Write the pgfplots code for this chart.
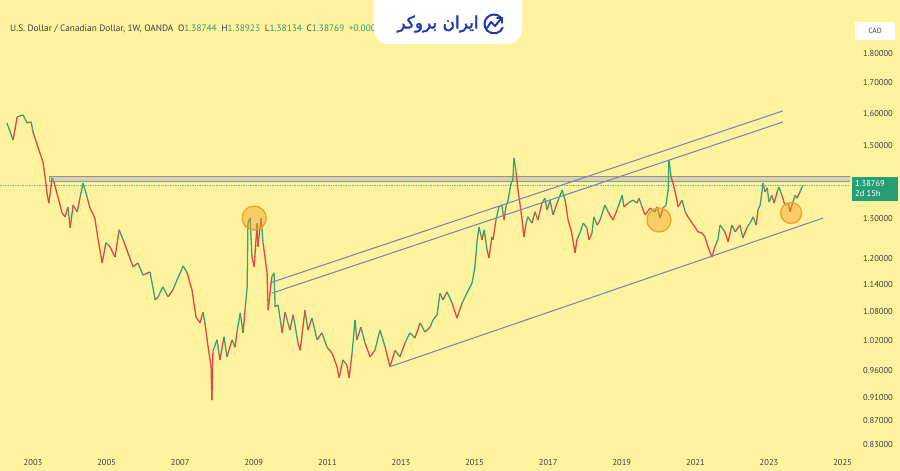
\documentclass[border=0pt]{standalone}
\usepackage{fontspec}
\setmainfont{PT Sans}
\usepackage{pgfplots}
\usepackage{pgfplotstable}
\pgfplotsset{compat=1.18}
\TeXXeTstate=1
\newfontfamily\logofont[Script=Arabic,FakeBold=2]{DejaVu Sans}

\definecolor{bgyellow}{RGB}{254,242,158}
\definecolor{candgreen}{RGB}{52,165,112}
\definecolor{candred}{RGB}{222,72,66}
\definecolor{trendblue}{RGB}{120,140,176}
\definecolor{txtgray}{RGB}{60,62,70}
\definecolor{valgreen}{RGB}{40,160,110}
\definecolor{tagteal}{RGB}{38,158,118}
\definecolor{logoblue}{RGB}{32,58,168}
\definecolor{circorange}{RGB}{242,160,40}
\definecolor{bandline}{RGB}{150,148,135}
\definecolor{bandfill}{RGB}{214,210,178}

% USD/CAD weekly closes (decimal year, price)
\pgfplotstableread{
t p
2002.29 1.570
2002.46 1.518
2002.57 1.589
2002.73 1.595
2002.84 1.570
2002.95 1.573
2003.00 1.542
2003.16 1.488
2003.27 1.453
2003.33 1.410
2003.38 1.366
2003.43 1.339
2003.52 1.408
2003.57 1.396
2003.68 1.355
2003.79 1.313
2003.87 1.303
2003.95 1.329
2004.01 1.275
2004.09 1.334
2004.20 1.316
2004.28 1.355
2004.36 1.393
2004.47 1.355
2004.55 1.326
2004.68 1.300
2004.77 1.245
2004.88 1.189
2004.98 1.238
2005.09 1.228
2005.23 1.203
2005.34 1.270
2005.45 1.245
2005.58 1.213
2005.72 1.180
2005.85 1.189
2005.99 1.161
2006.18 1.168
2006.32 1.105
2006.40 1.112
2006.53 1.134
2006.67 1.112
2006.80 1.127
2006.94 1.155
2007.08 1.182
2007.18 1.168
2007.32 1.127
2007.43 1.068
2007.54 1.056
2007.62 1.079
2007.67 1.056
2007.76 1.006
2007.84 0.968
2007.86 0.906
2007.89 0.998
2008.00 1.021
2008.08 0.981
2008.19 1.027
2008.27 0.987
2008.41 1.021
2008.49 1.006
2008.54 1.035
2008.63 1.077
2008.71 1.035
2008.76 1.083
2008.82 1.134
2008.84 1.287
2008.90 1.300
2008.95 1.203
2009.01 1.180
2009.09 1.287
2009.11 1.228
2009.20 1.300
2009.25 1.238
2009.36 1.166
2009.39 1.083
2009.49 1.157
2009.55 1.166
2009.58 1.090
2009.66 1.094
2009.77 1.035
2009.85 1.079
2009.98 1.041
2010.07 1.073
2010.20 1.015
2010.26 1.000
2010.39 1.083
2010.47 1.041
2010.58 1.066
2010.72 1.021
2010.85 1.035
2010.99 1.006
2011.13 0.994
2011.26 0.968
2011.32 0.947
2011.42 0.981
2011.53 0.971
2011.59 0.947
2011.67 0.994
2011.75 1.062
2011.80 1.021
2011.91 1.047
2012.02 1.015
2012.16 0.987
2012.29 1.000
2012.43 1.041
2012.57 1.006
2012.70 0.968
2012.84 1.000
2012.97 0.987
2013.11 1.015
2013.24 1.035
2013.38 1.025
2013.52 1.056
2013.65 1.037
2013.79 1.047
2013.87 1.062
2013.98 1.073
2014.06 1.120
2014.14 1.105
2014.25 1.123
2014.39 1.098
2014.52 1.066
2014.66 1.098
2014.79 1.120
2014.93 1.143
2015.01 1.180
2015.07 1.245
2015.12 1.277
2015.20 1.245
2015.26 1.270
2015.34 1.220
2015.39 1.201
2015.47 1.252
2015.50 1.245
2015.58 1.295
2015.66 1.329
2015.74 1.334
2015.80 1.295
2015.85 1.329
2015.91 1.347
2015.99 1.393
2016.04 1.402
2016.07 1.465
2016.13 1.422
2016.18 1.374
2016.23 1.339
2016.29 1.295
2016.34 1.252
2016.40 1.287
2016.45 1.303
2016.56 1.287
2016.64 1.316
2016.72 1.295
2016.83 1.339
2016.91 1.352
2016.97 1.321
2017.05 1.347
2017.13 1.308
2017.24 1.339
2017.29 1.352
2017.38 1.374
2017.46 1.347
2017.54 1.295
2017.62 1.270
2017.67 1.245
2017.73 1.213
2017.78 1.245
2017.86 1.262
2017.95 1.287
2018.05 1.275
2018.11 1.245
2018.19 1.262
2018.24 1.303
2018.33 1.282
2018.41 1.295
2018.54 1.334
2018.63 1.316
2018.76 1.295
2018.87 1.321
2019.01 1.360
2019.06 1.329
2019.17 1.339
2019.30 1.347
2019.41 1.339
2019.47 1.352
2019.55 1.329
2019.63 1.308
2019.77 1.326
2019.90 1.316
2019.96 1.329
2020.04 1.300
2020.12 1.326
2020.20 1.334
2020.26 1.374
2020.28 1.459
2020.34 1.410
2020.39 1.393
2020.47 1.360
2020.53 1.329
2020.64 1.347
2020.72 1.316
2020.80 1.303
2020.91 1.287
2020.99 1.277
2021.07 1.265
2021.18 1.262
2021.26 1.252
2021.34 1.228
2021.45 1.203
2021.53 1.228
2021.61 1.245
2021.67 1.282
2021.80 1.265
2021.89 1.240
2021.99 1.282
2022.08 1.265
2022.21 1.282
2022.29 1.250
2022.40 1.275
2022.48 1.287
2022.57 1.303
2022.65 1.282
2022.70 1.321
2022.76 1.334
2022.84 1.393
2022.89 1.369
2022.95 1.380
2023.00 1.342
2023.08 1.360
2023.14 1.339
2023.22 1.369
2023.27 1.382
2023.35 1.360
2023.43 1.334
2023.52 1.339
2023.57 1.316
2023.65 1.342
2023.71 1.360
2023.76 1.352
2023.84 1.369
2023.92 1.388
}\pricedata

% 1 = price rose into this point, 0 = fell
\pgfplotstablecreatecol[
  create col/assign/.code={%
    \ifnum\pgfplotstablerow=0
      \def\entry{1}%
    \else
      \pgfmathparse{\thisrow{p}>=\prevrow{p} ? 1 : 0}%
      \let\entry=\pgfmathresult
    \fi
    \pgfkeyslet{/pgfplots/table/create col/next content}\entry
  }]{up}{\pricedata}

\begin{document}
\begin{tikzpicture}[x=1pt,y=1pt]
\fill[bgyellow] (0,0) rectangle (900,471);
\useasboundingbox (0,0) rectangle (900,471);

\begin{axis}[
  at={(0pt,16pt)}, anchor=south west,
  width=850pt, height=455pt, scale only axis,
  xmin=2002.103, xmax=2025.201,
  ymode=log, ymin=0.8124, ymax=2.0036,
  axis line style={draw=none},
  major tick length=0pt,
  xtick={2003,2005,...,2025},
  xticklabels={2003,2005,2007,2009,2011,2013,2015,2017,2019,2021,2023,2025},
  ytick={0.83,0.87,0.91,0.96,1.02,1.08,1.14,1.2,1.3,1.5,1.6,1.7,1.8},
  yticklabels={0.83000,0.87000,0.91000,0.96000,1.02000,1.08000,1.14000,1.20000,1.30000,1.50000,1.60000,1.70000,1.80000},
  yticklabel pos=right,
  /pgf/number format/assume math mode=true,
  tick label style={font=\fontsize{8.5}{10}\selectfont, text=txtgray, inner sep=0pt},
  x tick label style={anchor=north, yshift=-4pt},
  y tick label style={anchor=east, xshift=43pt},
]
% resistance band
\draw[bandline, fill=bandfill, line width=1pt]
  (axis cs:2003.46,1.413) rectangle (axis cs:2025.4,1.399);
% last price line
\addplot[candgreen!75, densely dotted, line width=0.7pt]
  coordinates {(2002.0,1.38769) (2025.4,1.38769)};
% price path
\addplot[mesh, shader=flat corner, line width=1.3pt,
  point meta=\thisrow{up}, point meta min=0, point meta max=1,
  colormap={updown}{color=(candred) color=(candgreen)}]
  table[x=t, y=p] {\pricedata};
% trend channel
\addplot[trendblue, line width=1.1pt] coordinates {(2009.44,1.143) (2023.38,1.608)};
\addplot[trendblue, line width=1.1pt] coordinates {(2009.49,1.120) (2023.38,1.573)};
\addplot[trendblue, line width=1.1pt] coordinates {(2012.70,0.968) (2024.47,1.300)};
% highlighted turning points
\addplot[only marks, mark=*, mark size=12pt,
  mark options={fill=circorange, fill opacity=0.45, draw=circorange, line width=1.3pt}]
  coordinates {(2009.01,1.300) (2020.01,1.295)};
\addplot[only marks, mark=*, mark size=10.5pt,
  mark options={fill=circorange, fill opacity=0.45, draw=circorange, line width=1.3pt}]
  coordinates {(2023.60,1.313)};
\end{axis}

% header (cut short by the logo tab, as in the source)
\node[anchor=west, inner sep=0pt, text=txtgray, font=\fontsize{9.3}{11}\selectfont]
  at (10,442) {U.S. Dollar / Canadian Dollar, 1W, OANDA\enspace
  O\textcolor{valgreen}{1.38744}\enspace H\textcolor{valgreen}{1.38923}\enspace
  L\textcolor{valgreen}{1.38134}\enspace C\textcolor{valgreen}{1.38769}\enspace
  \textcolor{valgreen}{+0.0002}};

% logo
\fill[white, rounded corners=15pt] (374,490) rectangle (522,427);
\node[text=logoblue, inner sep=0pt, font=\fontsize{17}{17}\selectfont]
  at (438,447) {\logofont\beginR ایران بروکر\endR};
\draw[logoblue, line width=2pt] (494,447) ++(45:9.5) arc[start angle=45, end angle=340, radius=9.5];
\draw[logoblue, line width=2pt, line join=round, line cap=round]
  (487,443) -- (491,449) -- (495,445) -- (501,452);
\draw[logoblue, line width=2pt, line cap=round] (497,452.5) -- (501.5,452.5) -- (501.5,448);

% price scale extras
\fill[white] (855,431) rectangle (895,449);
\node[text=txtgray, font=\fontsize{7.5}{9}\selectfont] at (875,440) {CAD};
\fill[tagteal] (852,294) rectangle (898,270);
\node[anchor=west, text=white, inner sep=0pt, font=\fontsize{8.5}{9}\selectfont] at (855,287) {1.38769};
\node[anchor=west, text=white, inner sep=0pt, font=\fontsize{8.5}{9}\selectfont] at (855,277) {2d 15h};
\end{tikzpicture}
\end{document}
